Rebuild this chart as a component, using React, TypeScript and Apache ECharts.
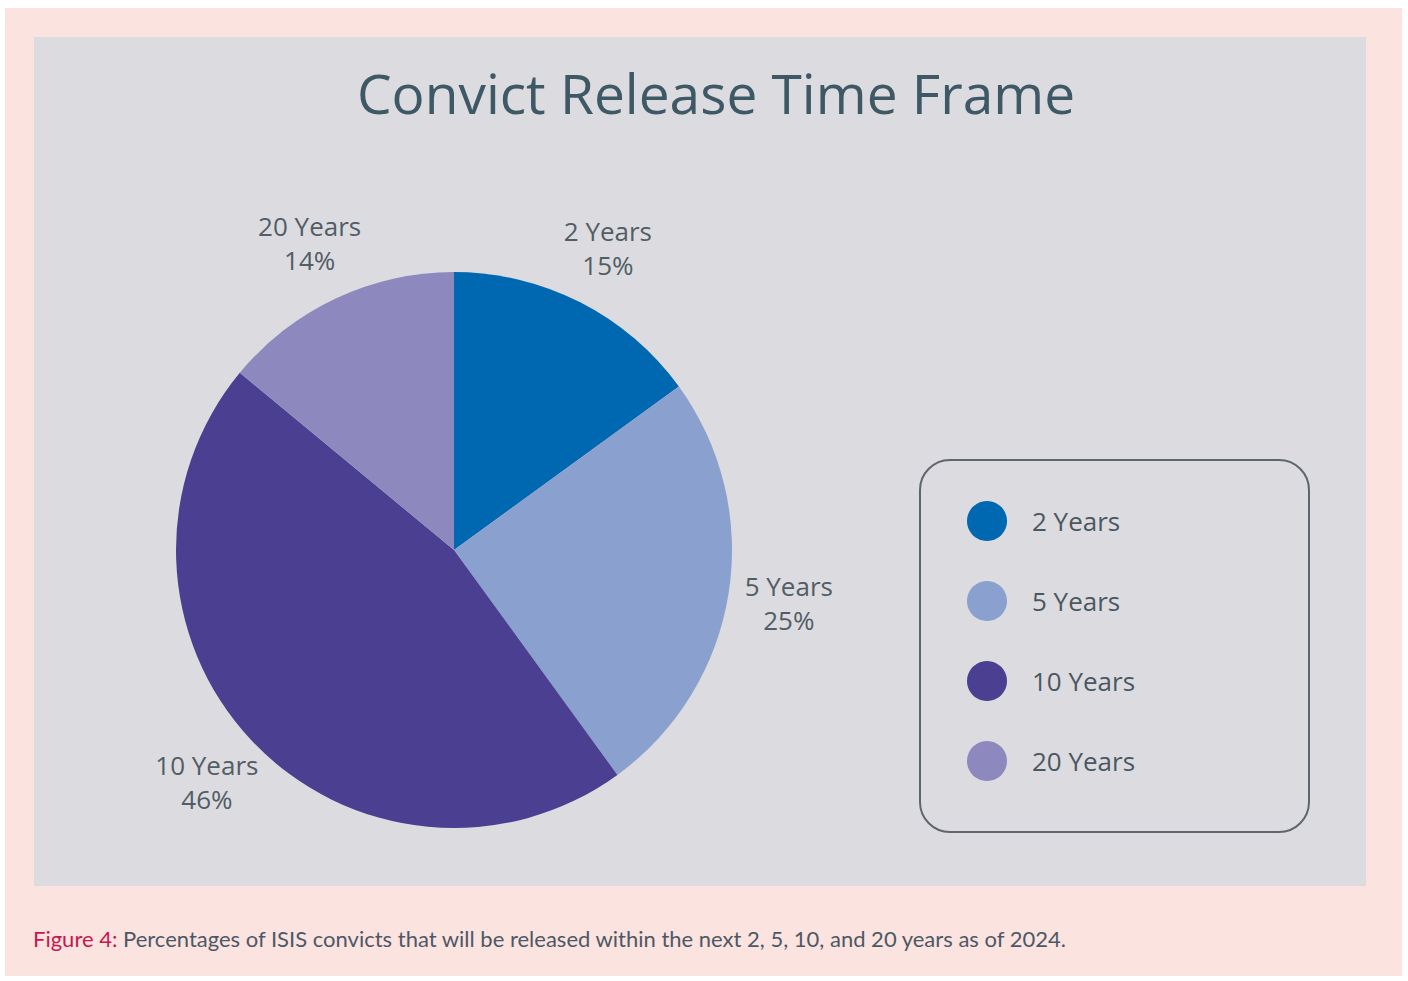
import React, { useEffect, useRef } from "react";
import * as echarts from "echarts";

const categories = ["2 Years", "5 Years", "10 Years", "20 Years"];
const values = [15, 25, 46, 14];
const colors = ["#0067b1", "#8aa0cf", "#4a3f91", "#8d88bd"];

const titleText = "Convict Release Time Frame";
const captionLead = "Figure 4:";
const captionBody = " Percentages of ISIS convicts that will be released within the next 2, 5, 10, and 20 years as of 2024.";

export default function App() {
  const ref = useRef<HTMLDivElement>(null);
  useEffect(() => {
    if (!ref.current) return;
    const chart = echarts.init(ref.current, undefined, { renderer: "svg" });
    const data = categories.map((name, i) => ({
      name,
      value: values[i],
      itemStyle: { color: colors[i] },
    }));
    chart.setOption({
      animation: false,
      backgroundColor: "#ffffff",
      graphic: [
        {
          type: "rect",
          z: -10,
          silent: true,
          shape: { x: 5, y: 8, width: 1397, height: 968 },
          style: { fill: "#fbe3df" },
        },
        {
          type: "rect",
          z: -9,
          silent: true,
          shape: { x: 34, y: 37, width: 1332, height: 849 },
          style: { fill: "#dcdce0" },
        },
        {
          type: "rect",
          z: -8,
          silent: true,
          shape: { x: 920, y: 460, width: 389, height: 372, r: 30 },
          style: { fill: "none", stroke: "#5f656c", lineWidth: 2 },
        },
        {
          type: "text",
          x: 716,
          y: 92,
          style: {
            text: titleText,
            fontFamily: "Open Sans",
            fontSize: 55,
            fill: "#3e5866",
            align: "center",
            verticalAlign: "middle",
          },
        },
        {
          type: "text",
          x: 33,
          y: 938,
          style: {
            text: `{a|${captionLead}}{b|${captionBody}}`,
            rich: {
              a: { fontFamily: "Lato", fontSize: 22, fill: "#c8174f", color: "#c8174f" },
              b: { fontFamily: "Lato", fontSize: 22, fill: "#4d5866", color: "#4d5866" },
            },
            verticalAlign: "middle",
          },
        },
      ],
      legend: {
        orient: "vertical",
        left: 967,
        top: 501,
        padding: 0,
        itemWidth: 40,
        itemHeight: 40,
        itemGap: 40,
        icon: "circle",
        selectedMode: false,
        data: categories.map((name, i) => ({ name, itemStyle: { color: colors[i] } })),
        textStyle: {
          fontFamily: "Open Sans",
          fontSize: 26,
          color: "#4b5761",
          padding: [0, 0, 0, 20],
        },
      },
      series: [
        {
          type: "pie",
          center: [454, 550],
          radius: 278,
          startAngle: 90,
          clockwise: true,
          label: { show: false },
          labelLine: { show: false },
          emphasis: { disabled: true },
          data,
        },
        {
          type: "pie",
          center: [454, 550],
          radius: [278, 394],
          startAngle: 90,
          clockwise: true,
          silent: true,
          itemStyle: { color: "rgba(0,0,0,0)" },
          emphasis: { disabled: true },
          labelLine: { show: false },
          label: {
            show: true,
            position: "inside",
            formatter: "{b}\n{c}%",
            fontFamily: "Open Sans",
            fontSize: 26,
            lineHeight: 34,
            color: "#525d66",
            align: "center",
          },
          data: categories.map((name, i) => ({
            name,
            value: values[i],
            itemStyle: { color: "rgba(0,0,0,0)" },
          })),
        },
      ],
    });
    return () => chart.dispose();
  }, []);
  return (
    <div
      ref={ref}
      style={{ position: "absolute", left: 0, top: 0, width: 1408, height: 981 }}
    />
  );
}
